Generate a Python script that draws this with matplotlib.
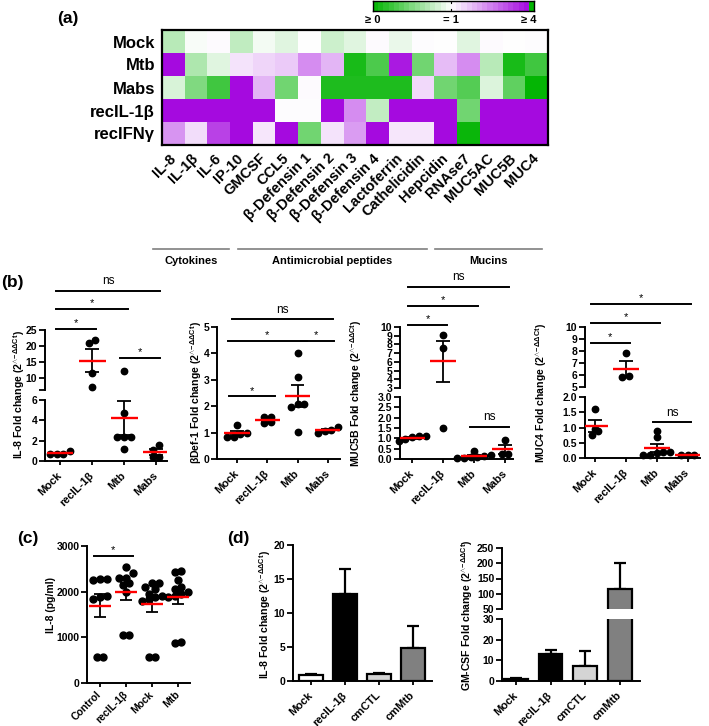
import numpy as np
import matplotlib
matplotlib.use('Agg')
import matplotlib.pyplot as plt
from matplotlib.colors import LinearSegmentedColormap, TwoSlopeNorm
import matplotlib.transforms as mtransforms

plt.rcParams['font.family'] = ['Liberation Sans', 'DejaVu Sans']
plt.rcParams['font.weight'] = 'bold'
plt.rcParams['mathtext.fontset'] = 'custom'
plt.rcParams['mathtext.rm'] = 'Liberation Sans'
plt.rcParams['mathtext.bf'] = 'Liberation Sans:bold'
plt.rcParams['mathtext.it'] = 'Liberation Sans:italic'

# ---------------- DATA ----------------
hm_rows = ['Mock', 'Mtb', 'Mabs', 'recIL-1β', 'recIFNγ']
hm_cols = ['IL-8', 'IL-1β', 'IL-6', 'IP-10', 'GMCSF', 'CCL5', 'β-Defensin 1',
           'β-Defensin 2', 'β-Defensin 3', 'β-Defensin 4', 'Lactoferrin',
           'Cathelicidin', 'Hepcidin', 'RNAse7', 'MUC5AC', 'MUC5B', 'MUC4']
hm_mock = [0.72, 0.97, 1.05, 0.75, 0.96, 0.88, 1.0, 0.8, 0.88, 1.06, 0.92, 1.04, 1.0, 0.88, 1.06, 1.02, 1.04]
hm_mtb = [4.0, 0.68, 0.88, 1.35, 1.5, 1.65, 2.4, 1.9, 0.1, 0.3, 3.8, 0.45, 1.8, 2.4, 0.72, 0.1, 0.25]
hm_mabs = [0.85, 0.5, 0.25, 4.0, 1.9, 0.45, 1.06, 0.12, 0.12, 0.12, 0.12, 1.45, 0.45, 0.33, 0.86, 0.38, 0.02]
hm_recil1b = [4, 4, 4, 4, 4, 1.04, 1.04, 4, 2.4, 0.76, 4, 4, 4, 0.45, 4, 4, 4]
hm_recifng = [2.3, 1.4, 3.3, 4.0, 1.3, 4.0, 0.45, 1.35, 2.2, 4.0, 1.3, 1.3, 4.0, 0.04, 4, 4, 4]
hm_groups = ['Cytokines', 'Antimicrobial peptides', 'Mucins']
cbar_labels = ['≥ 0', '= 1', '≥ 4']

b_groups = ['Mock', 'recIL-1β', 'Mtb', 'Mabs']
il8_vals = [[0.65, 0.7, 0.65, 1.0], [20.8, 22.0, 11.5, 7.3],
            [12.3, 4.75, 2.4, 2.4, 2.4, 1.2], [1.6, 1.1, 0.4, 0.4]]
bdef1_vals = [[1.3, 1.0, 0.95, 0.85, 0.85], [1.6, 1.6, 1.4, 1.35],
              [4.0, 3.1, 2.08, 2.08, 1.97, 1.04], [1.2, 1.1, 1.05, 1.0]]
muc5b_vals = [[1.1, 1.1, 1.05, 0.85, 0.95], [9.1, 7.6, 1.5],
              [0.4, 0.2, 0.15, 0.1, 0.1, 0.05, 0.05], [0.9, 0.25, 0.25]]
muc4_vals = [[1.6, 0.95, 0.9, 0.75], [7.8, 5.9, 5.8],
             [0.9, 0.7, 0.2, 0.2, 0.15, 0.1, 0.1], [0.1, 0.1, 0.1]]

c_groups = ['Control', 'recIL-1β', 'Mock', 'Mtb']
c_vals = [[2270, 2250, 2270, 1900, 1880, 1850, 560, 560],
          [2530, 2400, 2300, 2300, 2200, 2150, 2000, 1050, 1050],
          [2200, 2200, 2100, 2050, 1950, 1900, 1880, 1850, 1800, 560, 560],
          [2450, 2420, 2250, 2100, 2050, 2000, 1950, 1900, 1880, 870, 900]]

d_groups = ['Mock', 'recIL-1β', 'cmCTL', 'cmMtb']
d_il8_mean = [0.95, 12.8, 1.1, 4.9]
d_il8_err = [0.1, 3.6, 0.1, 3.2]
d_gmcsf_mean = [1.0, 13.0, 7.5, 117]
d_gmcsf_err = [0.3, 2.0, 7.0, 83]
d_colors = ['white', 'black', '#d4d4d4', '#808080']

# ---------------- LAYOUT ----------------
W, H = 709, 726
fig = plt.figure(figsize=(W / 100, H / 100), dpi=100)
fig.patch.set_facecolor('white')


def px_axes(l, t, r, b):
    return fig.add_axes([l / W, 1 - b / H, (r - l) / W, (b - t) / H])


def fx(x):
    return x / W


def fy(y):
    return 1 - y / H


cmap = LinearSegmentedColormap.from_list('gwp', ['#00b400', '#ffffff', '#a50adf'])
norm = TwoSlopeNorm(vmin=0, vcenter=1, vmax=4)

# ---- (a) heatmap ----
hm = np.array([hm_mock, hm_mtb, hm_mabs, hm_recil1b, hm_recifng])
axh = px_axes(162, 30, 548, 145)
axh.imshow(hm, cmap=cmap, norm=norm, aspect='auto', interpolation='nearest')
axh.set_yticks(range(len(hm_rows)))
axh.set_yticklabels(hm_rows, fontsize=12, fontweight='bold')
axh.set_xticks(range(len(hm_cols)))
axh.set_xticklabels(hm_cols, fontsize=10.5, fontweight='bold', rotation=45,
                    ha='right', va='center', rotation_mode='anchor')
axh.tick_params(length=0, pad=5)
axh.tick_params(axis='x', pad=8)
for s in axh.spines.values():
    s.set_linewidth(1.6)

tr = mtransforms.blended_transform_factory(axh.transData, axh.transAxes)
group_spans = [(-0.9, 2.45), (2.85, 11.17), (11.53, 16.24)]
line_y = (145 - 249) / 115
text_y = (145 - 261) / 115
for name, (a, b) in zip(hm_groups, group_spans):
    axh.plot([a, b], [line_y, line_y], color='#7f7f7f', lw=1.2, transform=tr, clip_on=False)
    axh.text((a + b) / 2, text_y, name, transform=tr, ha='center', va='center',
             fontsize=8, fontweight='bold')
axh.set_xlim(-0.5, len(hm_cols) - 0.5)
axh.set_ylim(len(hm_rows) - 0.5, -0.5)

# colorbar
cb = px_axes(373, 0.5, 534, 11)
nsteps = 30
xe = np.r_[np.linspace(0, 1, nsteps + 1), 1.032]
cvals = np.r_[(np.arange(nsteps) + 0.5) / nsteps, 0.0][None, :]
cb.pcolormesh(xe, [0, 1], cvals, cmap=cmap, vmin=0, vmax=1, shading='flat')
cb.set_xlim(0, 1.032)
cb.set_ylim(0, 1)
cb.set_xticks([])
cb.set_yticks([])
for s in cb.spines.values():
    s.set_linewidth(1.0)
cb.plot([0.5, 0.5], [0, 0.22], color='k', lw=0.8)
cb.plot([0.5, 0.5], [0.78, 1], color='k', lw=0.8)
trc = mtransforms.blended_transform_factory(cb.transData, cb.transAxes)
for xx, lab in zip([0, 0.5, 1.0], cbar_labels):
    cb.text(xx, (11 - 20) / 10.5, lab, transform=trc, ha='center', va='center',
            fontsize=8, fontweight='bold')


# ---------------- helpers ----------------
def style(ax, bottom=True):
    for s in ['top', 'right']:
        ax.spines[s].set_visible(False)
    ax.spines['left'].set_linewidth(1.4)
    ax.spines['bottom'].set_linewidth(1.4)
    ax.tick_params(axis='y', width=1.3, length=4, labelsize=7.5, pad=1.5)
    ax.tick_params(axis='x', width=1.3, length=3, labelsize=8, pad=1.5)
    if not bottom:
        ax.spines['bottom'].set_visible(False)
        ax.tick_params(axis='x', bottom=False, labelbottom=False)
    ax.patch.set_alpha(0)


def xlabels(ax, labels, pad=6, size=8):
    ax.set_xticks(range(len(labels)))
    ax.set_xticklabels(labels, rotation=45, ha='right', va='center',
                       rotation_mode='anchor', fontsize=size, fontweight='bold')
    ax.tick_params(axis='x', pad=pad)


def axis_for(axes, v):
    for ax in axes:
        lo, hi = ax.get_ylim()
        if lo <= v <= hi:
            return ax
    return axes[-1]


def swarm(axes, vals, diam, xppu, spread):
    ys = np.array([axis_for(axes, v).transData.transform((0, v))[1] for v in vals])
    order = np.argsort(ys)
    offs = np.zeros(len(vals))
    rows = []
    for idx in order:
        if rows and abs(ys[idx] - ys[rows[-1][0]]) < diam * 0.95:
            rows[-1].append(idx)
        else:
            rows.append([idx])
    for r in rows:
        n = len(r)
        for k, idx in enumerate(r):
            offs[idx] = (k - (n - 1) / 2) * diam * spread / xppu
    return offs


def dot_plot(axes, groups_vals, ms=4.6, diam=6.4, spread=1.05):
    lower = axes[-1]
    xppu = lower.transData.transform((1, 0))[0] - lower.transData.transform((0, 0))[0]
    for gi, vals in enumerate(groups_vals):
        vals = np.asarray(vals, float)
        m = vals.mean()
        se = vals.std(ddof=1) / np.sqrt(len(vals))
        offs = swarm(axes, vals, diam, xppu, spread)
        for v, o in zip(vals, offs):
            axis_for(axes, v).plot(gi + o, v, 'o', color='k', ms=ms, zorder=3, clip_on=False)
        for ax in axes:
            ax.vlines(gi, m - se, m + se, color='k', lw=1.3, zorder=4)
            ax.hlines([m - se, m + se], gi - 0.22, gi + 0.22, color='k', lw=1.3, zorder=4)
            ax.hlines(m, gi - 0.42, gi + 0.42, color='red', lw=1.7, zorder=5)


def sig(ax, i, j, y, label, dx=0.12):
    ax.plot([i - dx, j + dx], [y, y], color='k', lw=1.4, clip_on=False)
    off = 2.5 if label == 'ns' else 0.5
    ax.annotate(label, xy=((i + j) / 2, y), xytext=(0, off), textcoords='offset points',
                ha='center', va='bottom', fontsize=8.5 if label == 'ns' else 8,
                fontweight='normal', annotation_clip=False)


def ylabel_at(x, y, text, size=7.6):
    fig.text(fx(x), fy(y), text, rotation=90, ha='center', va='center',
             fontsize=size, fontweight='bold')


suffix = r' (2$^{\wedge\!-\!ΔΔ\mathrm{Ct}}$)'

# ---- (b) S1 IL-8 (broken) ----
s1u = px_axes(45, 330, 167, 390)
s1l = px_axes(45, 400, 167, 461)
for ax in (s1u, s1l):
    ax.set_xlim(-0.47, 3.34)
s1u.set_ylim(6.25, 25)
s1l.set_ylim(0, 6)
style(s1u, bottom=False)
style(s1l)
s1u.set_yticks([6.25, 10, 15, 20, 25])
s1u.set_yticklabels(['', '10', '15', '20', '25'])
s1l.set_yticks([0, 2, 4, 6])
xlabels(s1l, b_groups)
dot_plot([s1u, s1l], il8_vals)
sig(s1u, 0, 1, 25.3, '*')
sig(s1u, 0, 2, 31.6, '*')
sig(s1u, 0, 3, 37.2, 'ns')
sig(s1u, 2, 3, 16.25, '*')
ylabel_at(19, 395, 'IL-8 Fold change' + suffix)

# ---- (b) S2 bDef-1 ----
s2 = px_axes(217, 327, 340, 459)
s2.set_xlim(-0.66, 3.4)
s2.set_ylim(0, 5)
style(s2)
s2.set_yticks([0, 1, 2, 3, 4, 5])
xlabels(s2, b_groups)
dot_plot([s2], bdef1_vals)
sig(s2, 0, 1, 2.37, '*', dx=0.25)
sig(s2, 0, 2, 4.47, '*', dx=0.3)
s2.plot([2.1, 3.2], [4.47, 4.47], color='k', lw=1.4, clip_on=False)
s2.annotate('*', xy=(2.6, 4.47), xytext=(0, 0.5), textcoords='offset points',
            ha='center', va='bottom', fontsize=8, fontweight='normal', annotation_clip=False)
sig(s2, 0, 3, 5.3, 'ns', dx=0.18)
ylabel_at(196, 393, 'βDef-1 Fold change' + suffix)

# ---- (b) S3 MUC5B (broken) ----
s3u = px_axes(400, 327, 513, 388)
s3l = px_axes(400, 397, 513, 459)
for ax in (s3u, s3l):
    ax.set_xlim(-0.39, 3.26)
s3u.set_ylim(3, 10)
s3l.set_ylim(0, 3)
style(s3u, bottom=False)
style(s3l)
s3u.set_yticks(range(3, 11))
s3l.set_yticks(np.arange(0, 3.01, 0.5))
s3l.set_yticklabels(['%.1f' % v for v in np.arange(0, 3.01, 0.5)])
xlabels(s3l, b_groups)
dot_plot([s3u, s3l], muc5b_vals)
sig(s3u, 0, 1, 10.2, '*')
sig(s3u, 0, 2, 12.4, '*')
sig(s3u, 0, 3, 14.6, 'ns')
sig(s3l, 2, 3, 1.57, 'ns')
ylabel_at(356, 393, 'MUC5B Fold change' + suffix)

# ---- (b) S4 MUC4 (broken) ----
s4u = px_axes(585, 327, 700, 387)
s4l = px_axes(585, 397, 700, 458)
for ax in (s4u, s4l):
    ax.set_xlim(-0.32, 3.4)
s4u.set_ylim(5, 10)
s4l.set_ylim(0, 2)
style(s4u, bottom=False)
style(s4l)
s4u.set_yticks(range(5, 11))
s4l.set_yticks(np.arange(0, 2.01, 0.5))
s4l.set_yticklabels(['%.1f' % v for v in np.arange(0, 2.01, 0.5)])
xlabels(s4l, b_groups)
dot_plot([s4u, s4l], muc4_vals)
sig(s4u, 0, 1, 8.67, '*')
sig(s4u, 0, 2, 10.33, '*')
sig(s4u, 0, 3, 11.9, '*')
sig(s4l, 2, 3, 1.17, 'ns')
ylabel_at(541, 393, 'MUC4 Fold change' + suffix)

# ---- (c) ----
axc = px_axes(87, 546, 190, 683)
axc.set_xlim(-0.5, 3.46)
axc.set_ylim(0, 3000)
style(axc)
axc.set_yticks([0, 1000, 2000, 3000])
xlabels(axc, c_groups, pad=4, size=7.5)
dot_plot([axc], c_vals, ms=5.0, diam=7.0, spread=0.95)
sig(axc, 0, 1, 2790, '*', dx=0.25)
ylabel_at(51, 605, 'IL-8 (pg/ml)', size=7.5)

# ---- (d) bars ----
def bar_plot(axes, means, errs):
    x = np.arange(len(means))
    for ax in axes:
        ax.bar(x, means, width=0.68, color=d_colors, edgecolor='k', linewidth=1.6, zorder=2)
        ax.errorbar(x, means, yerr=[np.zeros(len(errs)), errs], fmt='none', ecolor='k',
                    elinewidth=1.6, capsize=4, capthick=1.6, zorder=1)


d1 = px_axes(293, 545, 432, 681)
d1.set_xlim(-0.53, 3.56)
d1.set_ylim(0, 20)
style(d1)
d1.set_yticks([0, 5, 10, 15, 20])
xlabels(d1, d_groups)
bar_plot([d1], d_il8_mean, d_il8_err)
ylabel_at(265, 615, 'IL-8 Fold change' + suffix)

d2u = px_axes(502, 548, 640, 609)
d2l = px_axes(502, 619, 640, 681)
for ax in (d2u, d2l):
    ax.set_xlim(-0.4, 3.58)
d2u.set_ylim(50, 250)
d2l.set_ylim(0, 30)
style(d2u, bottom=False)
style(d2l)
d2u.set_yticks([50, 100, 150, 200, 250])
d2l.set_yticks([0, 10, 20, 30])
xlabels(d2l, d_groups)
bar_plot([d2u, d2l], d_gmcsf_mean, d_gmcsf_err)
ylabel_at(467, 615, 'GM-CSF Fold change' + suffix)

# ---- panel labels ----
for lab, x, y in [('(a)', 57, 18), ('(b)', 1, 283), ('(c)', 17, 538), ('(d)', 227, 538)]:
    fig.text(fx(x), fy(y), lab, ha='left', va='center', fontsize=12.5, fontweight='bold')

fig.savefig('out.png', dpi=100, facecolor='white')
